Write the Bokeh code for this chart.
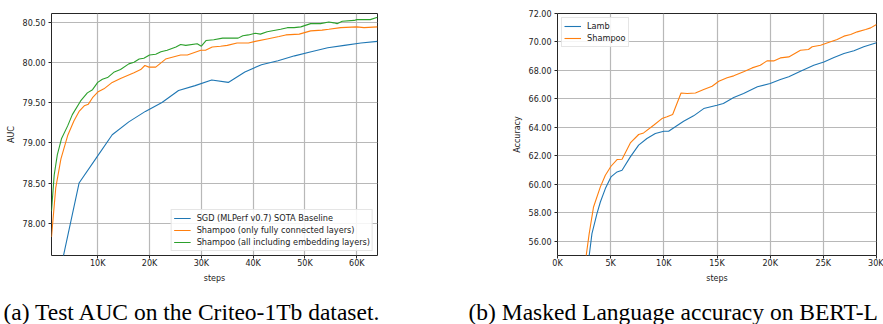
from bokeh.plotting import figure
from bokeh.models import Range1d, FixedTicker, PrintfTickFormatter
from bokeh.core.properties import value
from bokeh.layouts import row, column
from bokeh.embed import file_html
from bokeh.resources import INLINE

# ---------------- data: (a) Criteo AUC ----------------
sgd_steps = [3200, 6400, 9600, 12800, 16000, 19200, 22400, 25600, 28800, 32000,
             35200, 38400, 41600, 44800, 48000, 51200, 54400, 57600, 60800, 64000]
sgd_auc = [77.54, 78.50, 78.80, 79.10, 79.26, 79.39, 79.50, 79.65, 79.71, 79.78,
           79.75, 79.88, 79.97, 80.02, 80.08, 80.13, 80.18, 80.21, 80.24, 80.26]

fc_steps = [1080, 1900, 2900, 4200, 5400, 6400, 7400, 8200, 9000, 10000, 11200, 12800,
            14400, 17000, 18300, 19100, 19900, 21200, 23100, 26000, 27300, 29900, 30800,
            32100, 33700, 35000, 36900, 39100, 40400, 42700, 45000, 46300, 48900, 51100,
            53300, 54600, 56900, 60000, 61400, 64000]
fc_auc = [77.83, 78.44, 78.80, 79.09, 79.27, 79.39, 79.46, 79.48, 79.56, 79.63, 79.67, 79.75,
          79.80, 79.87, 79.91, 79.96, 79.94, 79.94, 80.04, 80.09, 80.09, 80.15, 80.15,
          80.19, 80.20, 80.21, 80.24, 80.24, 80.26, 80.29, 80.32, 80.34, 80.35, 80.39,
          80.40, 80.41, 80.43, 80.44, 80.43, 80.44]

all_steps = [1080, 1600, 2200, 3000, 4200, 5100, 6700, 8000, 9000, 10000, 10900, 11900,
             13200, 14400, 16000, 17000, 18000, 18900, 20000, 21200, 22200, 23400, 25100,
             26000, 27000, 29200, 30000, 30900, 32400, 34100, 36000, 37100, 38000, 39100,
             40400, 41400, 42700, 45300, 46600, 47900, 49200, 51100, 53000, 54600, 55600,
             56200, 57200, 59500, 60000, 62600, 64000]
all_auc = [78.15, 78.60, 78.85, 79.05, 79.21, 79.35, 79.52, 79.62, 79.66, 79.75, 79.79, 79.81,
           79.88, 79.91, 79.98, 80.00, 80.04, 80.05, 80.09, 80.10, 80.13, 80.15, 80.19,
           80.22, 80.21, 80.23, 80.20, 80.27, 80.28, 80.30, 80.30, 80.30, 80.33, 80.34,
           80.36, 80.35, 80.38, 80.41, 80.43, 80.43, 80.44, 80.48, 80.48, 80.50, 80.49,
           80.48, 80.51, 80.52, 80.53, 80.53, 80.56]

a_xticks = [10000, 20000, 30000, 40000, 50000, 60000]
a_xlabels = ["10K", "20K", "30K", "40K", "50K", "60K"]
a_yticks = [78.0, 78.5, 79.0, 79.5, 80.0, 80.5]

# ---------------- data: (b) BERT-Large accuracy ----------------
lamb_steps = [2900, 3240, 3710, 4030, 4500, 5030, 5600, 6070, 6850, 7630, 8410, 9200,
              10000, 10450, 11080, 11860, 12800, 13750, 15000, 15600, 16570, 17500, 18800,
              20000, 20960, 21750, 22850, 24100, 25050, 26000, 26940, 27880, 28800, 30000]
lamb_acc = [54.5, 56.54, 57.94, 58.76, 59.70, 60.52, 60.87, 60.99, 61.93, 62.75, 63.22, 63.57,
            63.73, 63.73, 64.04, 64.43, 64.81, 65.32, 65.56, 65.68, 66.10, 66.38, 66.85,
            67.08, 67.36, 67.55, 67.95, 68.37, 68.60, 68.91, 69.19, 69.38, 69.66, 69.94]

shampoo_steps = [2500, 2980, 3390, 4030, 4500, 5030, 5600, 6070, 6850, 7630, 8100, 9040,
                 9820, 10300, 10830, 11620, 12190, 12970, 13750, 14540, 15170, 15950, 16570,
                 17500, 18300, 19070, 19700, 20330, 20960, 21750, 22850, 23600, 23950, 24740,
                 25680, 26300, 26940, 27570, 28190, 28980, 29450, 30000]
shampoo_acc = [53.9, 56.54, 58.41, 59.82, 60.64, 61.27, 61.74, 61.76, 62.91, 63.50, 63.61, 64.15,
               64.62, 64.74, 64.90, 66.42, 66.38, 66.42, 66.66, 66.89, 67.24, 67.48, 67.62,
               67.90, 68.18, 68.37, 68.67, 68.67, 68.88, 68.95, 69.42, 69.47, 69.66, 69.77,
               70.01, 70.17, 70.41, 70.52, 70.71, 70.88, 70.99, 71.23]

b_xticks = [0, 5000, 10000, 15000, 20000, 25000, 30000]
b_xlabels = ["0K", "5K", "10K", "15K", "20K", "25K", "30K"]
b_yticks = [56, 58, 60, 62, 64, 66, 68, 70, 72]

captions = ["(a) Test AUC on the Criteo-1Tb dataset.", "(b) Masked Language accuracy on BERT-L"]

BLUE, ORANGE, GREEN = "#1f77b4", "#ff7f0e", "#2ca02c"
INK = "#262626"
FONT = "DejaVu Sans"


def style(p, xticks, xlabels, yticks, ylabel):
    p.outline_line_color = INK
    p.outline_line_width = 1
    p.background_fill_color = "white"
    p.border_fill_color = "white"
    for ax in (p.xaxis[0], p.yaxis[0]):
        ax.axis_line_color = None
        ax.major_tick_line_color = INK
        ax.major_tick_out = 3
        ax.major_tick_in = 0
        ax.minor_tick_line_color = None
        ax.major_label_text_font = FONT
        ax.major_label_text_font_size = "8px"
        ax.major_label_text_color = "#222222"
        ax.axis_label_text_font = FONT
        ax.axis_label_text_font_size = "8px"
        ax.axis_label_text_font_style = "normal"
        ax.axis_label_text_color = "#222222"
    p.xaxis.ticker = FixedTicker(ticks=xticks)
    p.xaxis.major_label_overrides = {t: l for t, l in zip(xticks, xlabels)}
    p.xaxis.axis_label = "steps"
    p.xaxis.major_label_standoff = 0
    p.xaxis.axis_label_standoff = 3
    p.yaxis.ticker = FixedTicker(ticks=yticks)
    p.yaxis.formatter = PrintfTickFormatter(format="%.2f")
    p.yaxis.axis_label = ylabel
    p.yaxis.major_label_standoff = 3
    p.yaxis.axis_label_standoff = 4
    p.xgrid.grid_line_color = "#b8b8b8"
    p.ygrid.grid_line_color = "#b8b8b8"
    p.xgrid.grid_line_width = 1.2
    p.ygrid.grid_line_width = 1.2


def style_legend(p, loc):
    lg = p.legend[0]
    lg.location = loc
    lg.margin = 4
    lg.padding = 2
    lg.spacing = 0
    lg.glyph_width = 17
    lg.glyph_height = 12
    lg.label_height = 12
    lg.label_standoff = 6
    lg.label_text_font = FONT
    lg.label_text_font_size = "8.2px"
    lg.label_text_color = "#222222"
    lg.border_line_color = "#cccccc"
    lg.border_line_width = 1
    lg.background_fill_alpha = 0.85


PLOT_H = 294

# ---------------- figure (a) ----------------
pa = figure(width=440, height=PLOT_H, x_range=Range1d(1080, 64000), y_range=Range1d(77.60, 80.606),
            min_border_left=51, min_border_right=63, min_border_top=9, min_border_bottom=39,
            output_backend="svg", toolbar_location=None)
style(pa, a_xticks, a_xlabels, a_yticks, "AUC")
pa.line(sgd_steps, sgd_auc, color=BLUE, line_width=1.1, legend_label="SGD (MLPerf v0.7) SOTA Baseline")
pa.line(fc_steps, fc_auc, color=ORANGE, line_width=1.1, legend_label="Shampoo (only fully connected layers)")
pa.line(all_steps, all_auc, color=GREEN, line_width=1.1, legend_label="Shampoo (all including embedding layers)")
style_legend(pa, "bottom_right")

# ---------------- figure (b) ----------------
pb = figure(width=443, height=PLOT_H, x_range=Range1d(0, 30000), y_range=Range1d(55.0, 72.0),
            min_border_left=117, min_border_right=7, min_border_top=13, min_border_bottom=39,
            output_backend="svg", toolbar_location=None)
style(pb, b_xticks, b_xlabels, b_yticks, "Accuracy")
pb.line(lamb_steps, lamb_acc, color=BLUE, line_width=1.1, legend_label="Lamb")
pb.line(shampoo_steps, shampoo_acc, color=ORANGE, line_width=1.1, legend_label="Shampoo")
style_legend(pb, "top_left")

# ---------------- caption strip ----------------
pc = figure(width=883, height=30, x_range=Range1d(0, 883), y_range=Range1d(0, 30),
            min_border=0, x_axis_location=None, y_axis_location=None,
            output_backend="svg", toolbar_location=None)
pc.grid.visible = False
pc.outline_line_color = None
pc.text(x=[3, 468], y=[13, 13], text=captions, text_align="left", text_baseline="alphabetic",
        text_font=value("Liberation Serif"), text_font_size="23.5px", text_color="black")

layout = column(row(pa, pb), pc)
open("out.html", "w").write(file_html(layout, INLINE))
